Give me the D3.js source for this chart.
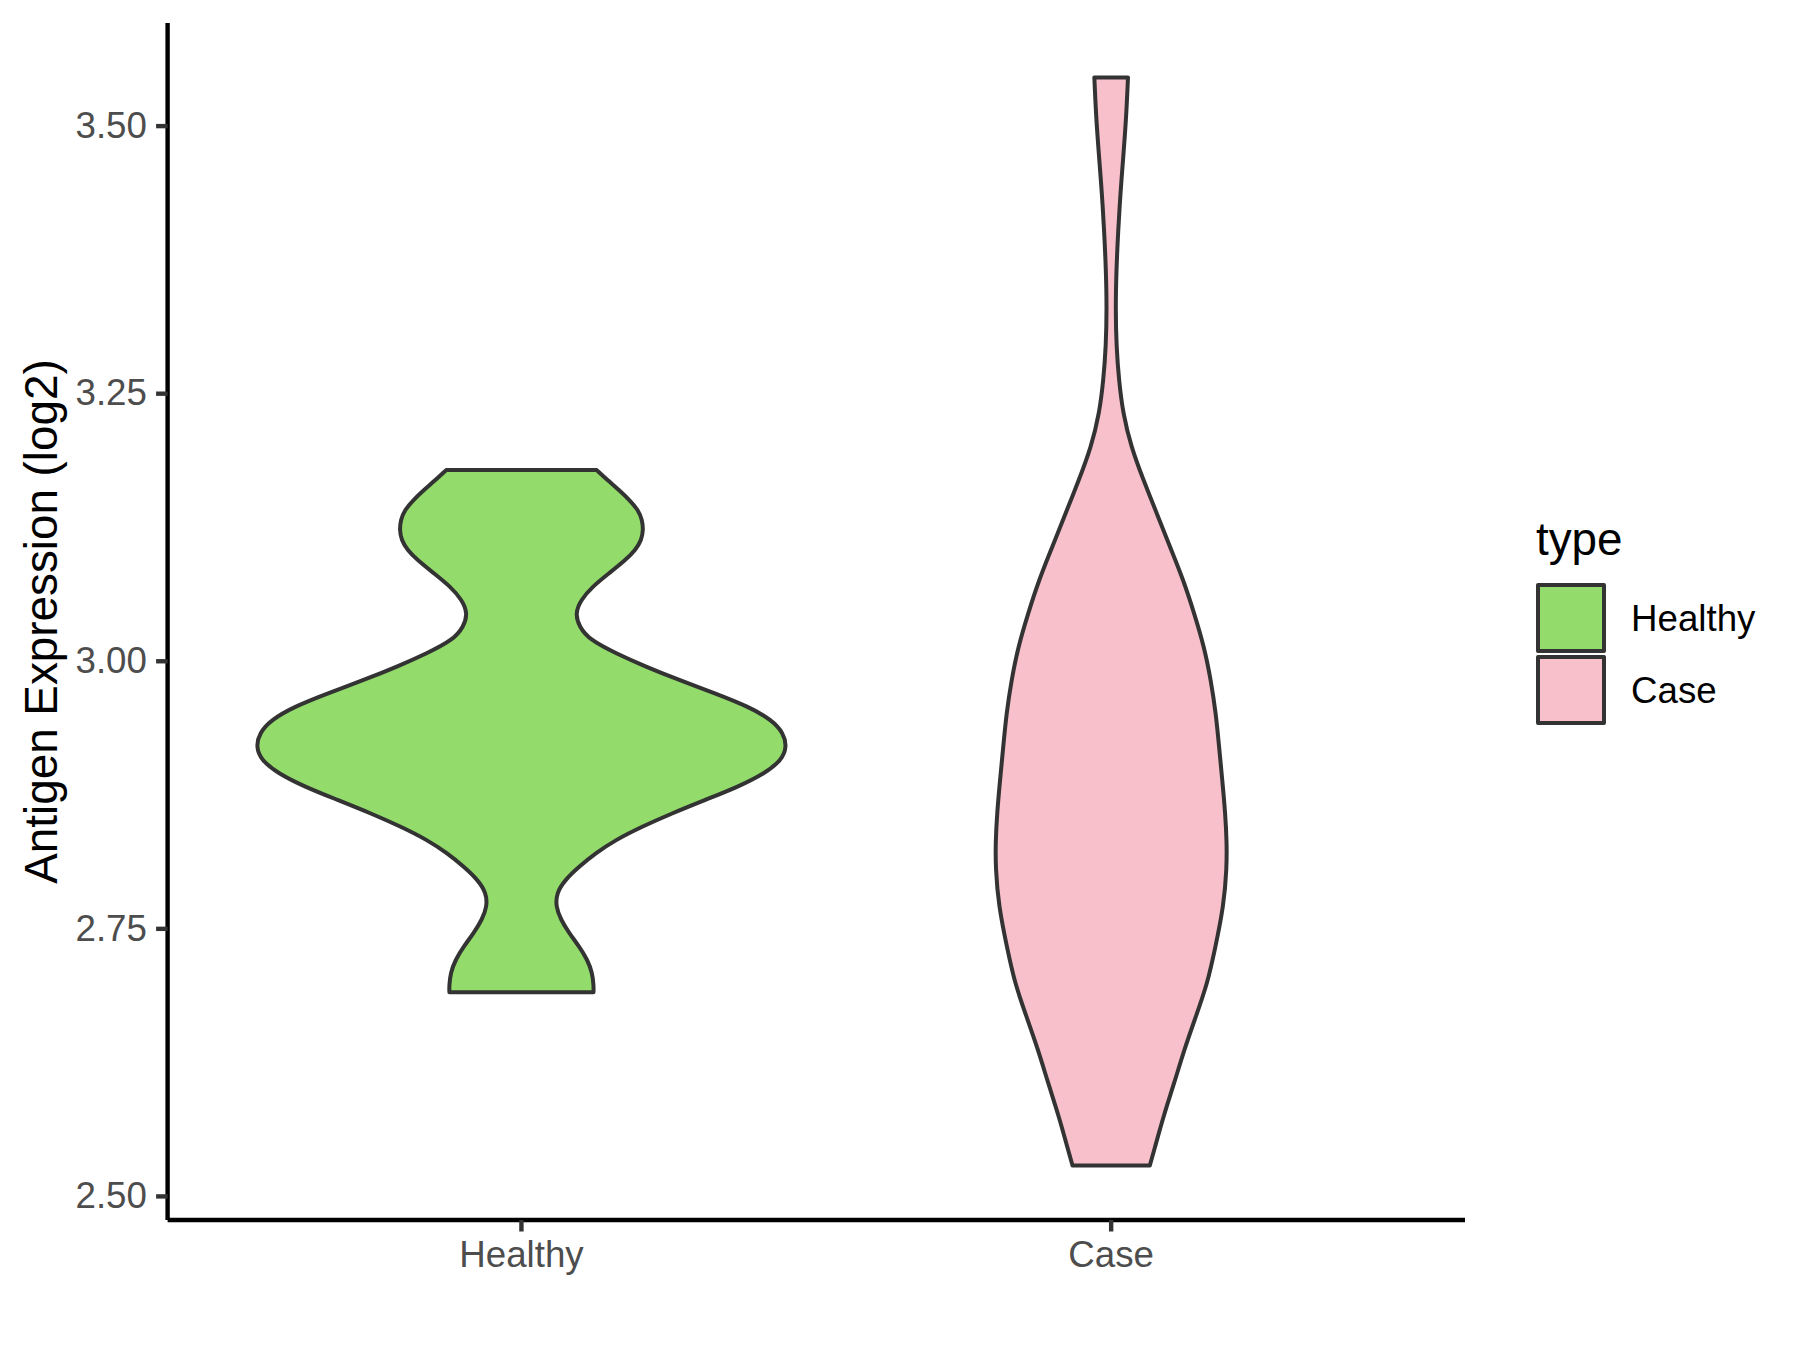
<!DOCTYPE html>
<html>
  <head>
    <meta charset="utf-8">
    <title>Antigen expression violin</title>
    <script src="https://cdn.jsdelivr.net/npm/d3@7"></script>
    <style>
      body { margin: 0; background: #fff; }
      #chart { display: block; font-family: "Liberation Sans", Arial, sans-serif; }
      .tickText { fill: #4d4d4d; font-size: 36.7px; }
      .axisTitle { fill: #000; font-size: 45.8px; }
      .legendTitle { fill: #000; font-size: 45.8px; }
      .legendLabel { fill: #000; font-size: 36.7px; }
      .violin { stroke: #333333; stroke-width: 4; stroke-linejoin: round; }
    </style>
  </head>

  <body>
    <svg id="chart" width="1800" height="1350">
      <g id="chartGroup"></g>
      <g id="xAxisGroup"></g>
      <g id="yAxisGroup"></g>
      <text id="yTitle" class="axisTitle">Antigen Expression (log2)</text>
      <g id="legend"></g>
    </svg>

    <script>
      // data: expression value and estimated density
      groups = ["Healthy", "Case"];
      healthyValues = [3.1786, 3.1693, 3.16, 3.1506, 3.1413, 3.132, 3.1226, 3.1133, 3.104, 3.0946,
        3.0822, 3.0697, 3.0572, 3.0448, 3.0323, 3.0199, 3.0075, 2.995, 2.9825, 2.970,
        2.9576, 2.9452, 2.9328, 2.9203, 2.9078, 2.8954, 2.8829, 2.8705, 2.858, 2.8456,
        2.8331, 2.8207, 2.8082, 2.7957, 2.7834, 2.7709, 2.7585, 2.7460, 2.7336, 2.7211,
        2.7087, 2.6963, 2.6907];
      healthyDensity = [0.823, 0.940, 1.067, 1.183, 1.277, 1.321, 1.332, 1.313, 1.248, 1.139,
        0.958, 0.776, 0.649, 0.588, 0.631, 0.749, 1.030, 1.357, 1.721, 2.120,
        2.484, 2.738, 2.866, 2.902, 2.847, 2.665, 2.375, 2.011, 1.648, 1.321,
        1.030, 0.812, 0.631, 0.476, 0.384, 0.376, 0.431, 0.522, 0.631, 0.722,
        0.776, 0.790, 0.788];
      caseValues = [3.5455, 3.5087, 3.4729, 3.4372, 3.4014, 3.3657, 3.33, 3.2942, 3.2626, 3.2316,
        3.2004, 3.169, 3.1382, 3.107, 3.0759, 3.0448, 3.0136, 2.9825, 2.9514, 2.9203,
        2.889, 2.858, 2.8305, 2.8075, 2.7718, 2.7305, 2.6994, 2.6682, 2.6371, 2.606,
        2.5749, 2.5437, 2.5288];
      caseDensity = [0.184, 0.165, 0.134, 0.101, 0.076, 0.057, 0.048, 0.057, 0.085, 0.129,
        0.218, 0.354, 0.499, 0.643, 0.790, 0.908, 1.017, 1.090, 1.145, 1.180,
        1.215, 1.248, 1.264, 1.264, 1.232, 1.134, 1.054, 0.927, 0.799, 0.690,
        0.572, 0.472, 0.422];
      yTicks = [2.50, 2.75, 3.00, 3.25, 3.50];

      colours = { Healthy: "#93db6b", Case: "#f8c0cb" };

      violins = groups.map(function(g) {
        let vals = g == "Healthy" ? healthyValues : caseValues;
        let dens = g == "Healthy" ? healthyDensity : caseDensity;
        return {
          name: g,
          points: vals.map(function(v, i) { return { v: v, d: dens[i] }; })
        };
      });

      // chart elements
      margin = {
        top: 23,
        right: 335,
        bottom: 130,
        left: 167.6
      };
      chartWidth = 1800;
      chartHeight = 1350;

      allValues = healthyValues.concat(caseValues);
      lo = d3.min(allValues);
      hi = d3.max(allValues);
      pad = (hi - lo) * 0.05;

      x = d3.scalePoint()
        .domain(groups)
        .range([margin.left, chartWidth - margin.right])
        .padding(0.6);
      y = d3.scaleLinear()
        .domain([lo - pad, hi + pad])
        .range([chartHeight - margin.bottom, margin.top]);
      maxDensity = d3.max(healthyDensity.concat(caseDensity));
      halfWidth = d3.scaleLinear()
        .domain([0, maxDensity])
        .range([0, 0.45 * x.step()]);

      // violins
      chartGroup = d3.select("#chartGroup");
      chartGroup.selectAll(".violin")
          .data(violins)
        .enter().append("path")
          .attr("class", "violin")
          .attr("fill", function(d) { return colours[d.name]; })
          .attr("d", function(d) {
            let cx = x(d.name);
            return d3.area()
              .y(function(p) { return y(p.v); })
              .x0(function(p) { return cx - halfWidth(p.d); })
              .x1(function(p) { return cx + halfWidth(p.d); })
              .curve(d3.curveBasis)(d.points);
          });

      // axes
      xAxis = d3.axisBottom(x)
        .tickSizeInner(11.5)
        .tickSizeOuter(0)
        .tickPadding(9.2)
        .offset(0);
      yAxis = d3.axisLeft(y)
        .tickValues(yTicks)
        .tickFormat(d3.format(".2f"))
        .tickSizeInner(11.5)
        .tickSizeOuter(0)
        .tickPadding(9.2)
        .offset(0);

      xAxisGroup = d3.select("#xAxisGroup")
        .attr("transform", "translate(0," + (chartHeight - margin.bottom) + ")")
        .call(xAxis);
      yAxisGroup = d3.select("#yAxisGroup")
        .attr("transform", "translate(" + margin.left + ",0)")
        .call(yAxis);

      [xAxisGroup, yAxisGroup].forEach(function(g) {
        g.attr("font-family", null).attr("font-size", null);
        g.select(".domain").attr("stroke", "#000").attr("stroke-width", 4.4);
        g.selectAll(".tick line").attr("stroke", "#333333").attr("stroke-width", 4.4);
        g.selectAll(".tick text").attr("class", "tickText").attr("fill", null);
      });
      xAxisGroup.selectAll(".tick text").attr("dy", "0.72em");

      d3.select("#yTitle")
        .attr("text-anchor", "middle")
        .attr("transform", "translate(57," + ((margin.top + chartHeight - margin.bottom) / 2) + ") rotate(-90)");

      // legend
      legend = d3.select("#legend").attr("transform", "translate(1535,0)");
      legend.append("text")
        .attr("class", "legendTitle")
        .attr("x", 1)
        .attr("y", 555)
        .text("type");
      keys = legend.selectAll(".key")
          .data(groups)
        .enter().append("g")
          .attr("class", "key")
          .attr("transform", function(d, i) { return "translate(0," + (582 + i * 72) + ")"; });
      keys.append("rect")
        .attr("x", 3)
        .attr("y", 3)
        .attr("width", 66)
        .attr("height", 66)
        .attr("fill", function(d) { return colours[d]; })
        .attr("stroke", "#333333")
        .attr("stroke-width", 4)
        .attr("stroke-linejoin", "round");
      keys.append("text")
        .attr("class", "legendLabel")
        .attr("x", 96)
        .attr("y", 36)
        .attr("dy", "0.36em")
        .text(function(d) { return d; });
    </script>
  </body>
</html>
